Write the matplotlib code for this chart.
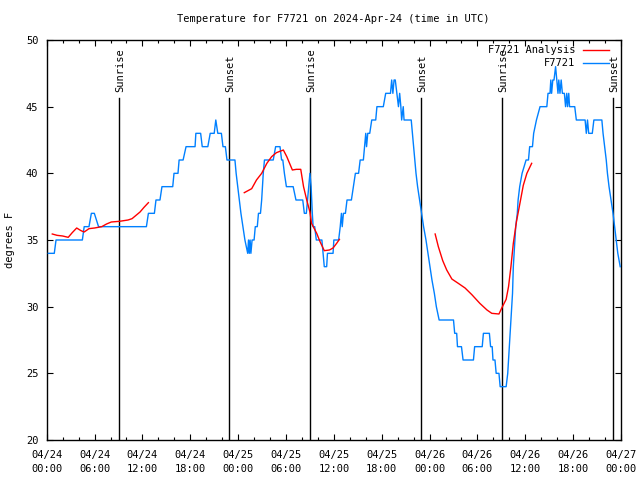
import matplotlib
matplotlib.use("Agg")
import matplotlib.pyplot as plt
from matplotlib.ticker import MultipleLocator
import matplotlib.transforms as mtransforms

plt.rcParams['font.family'] = ['DejaVu Sans Mono']

title = "Temperature for F7721 on 2024-Apr-24 (time in UTC)"
ylabel = "degrees F"

# x in hours since 04/24 00:00 UTC
xtick_hours = [0, 6, 12, 18, 24, 30, 36, 42, 48, 54, 60, 66, 72]
xtick_labels = ["04/24\n00:00", "04/24\n06:00", "04/24\n12:00", "04/24\n18:00",
                "04/25\n00:00", "04/25\n06:00", "04/25\n12:00", "04/25\n18:00",
                "04/26\n00:00", "04/26\n06:00", "04/26\n12:00", "04/26\n18:00",
                "04/27\n00:00"]

sun_hours = [9.08, 22.9, 33.05, 46.97, 57.1, 71.05]
sun_labels = ["Sunrise", "Sunset", "Sunrise", "Sunset", "Sunrise", "Sunset"]

obs_hours = [0.2, 0.95, 1.17, 4.47, 4.7, 5.3, 5.6, 5.97, 6.5, 12.5, 12.75, 13.5, 13.7, 14.2,
             14.45, 15.8, 15.96, 16.46, 16.6, 17.1, 17.47, 18.6, 18.7, 19.3, 19.5, 20.2,
             20.5, 21.0, 21.2, 21.45, 21.9, 22.1, 22.4, 22.6, 23.6,
             23.75, 23.95, 24.15, 24.35, 24.6, 24.85, 25.2, 25.3, 25.4, 25.5, 25.6, 25.75,
             26.0, 26.15, 26.4, 26.55, 26.8, 26.95, 27.05, 27.15, 27.3, 28.4, 28.7, 29.25,
             29.45, 29.6, 29.8, 30.05, 30.9, 31.25, 32.1, 32.3, 32.55, 32.7, 32.85, 33.0,
             33.15, 33.3, 33.4, 33.6, 33.8, 34.5, 34.65, 34.8, 35.1, 35.2, 35.9, 36.0,
             36.6, 36.8, 36.95, 37.05, 37.2, 37.45, 37.65, 38.2, 38.45, 38.7, 39.1, 39.3,
             39.7, 39.85, 40.0, 40.1, 40.25, 40.5, 40.75, 41.25, 41.4, 42.2, 42.5, 43.1,
             43.25, 43.4, 43.55, 43.7, 43.9, 44.1, 44.25, 44.4, 44.5, 44.7, 44.8, 45.7,
             45.85, 46.0, 46.15, 46.3, 46.5, 46.75, 47.0, 47.25, 47.55, 47.8, 48.05, 48.3,
             48.6, 48.85, 49.2, 51.0, 51.15, 51.4, 51.5, 52.0, 52.2, 53.5, 53.65, 54.6,
             54.75, 55.5, 55.65, 55.85, 55.95, 56.2, 56.35, 56.7, 56.85, 57.6, 57.8, 57.9,
             58.0, 58.1, 58.2, 58.3, 58.4, 58.5, 58.6, 58.7, 58.8, 59.0, 59.1, 59.3, 59.6,
             60.1, 60.4, 60.55, 60.9, 61.05, 61.4, 61.85, 62.7, 62.85, 63.1, 63.2, 63.3,
             63.45, 63.6, 63.8, 63.95, 64.1, 64.2, 64.35, 64.5, 64.65, 64.9, 65.05, 65.2,
             65.3, 65.45, 65.55, 66.2, 66.4, 67.5, 67.65, 67.8, 67.95, 68.4, 68.6, 69.6,
             69.75, 69.95, 70.15, 70.3, 70.5, 70.75, 71.0, 71.2, 71.4, 71.6, 71.9]
obs_temps = [34, 34, 35, 35, 36, 36, 37, 37, 36, 36, 37, 37, 38, 38,
             39, 39, 40, 40, 41, 41, 42, 42, 43, 43, 42, 42,
             43, 43, 44, 43, 43, 42, 42, 41, 41,
             40, 39, 38, 37, 36, 35, 34, 35, 34, 35, 34, 35,
             35, 36, 36, 37, 37, 38, 39, 40, 41, 41, 42, 42,
             41, 41, 40, 39, 39, 38, 38, 37, 37, 38, 39, 40,
             39, 37, 36, 36, 35, 35, 34, 33, 33, 34, 34, 35,
             35, 36, 37, 36, 37, 37, 38, 38, 39, 40, 40, 41,
             41, 42, 43, 42, 43, 43, 44, 44, 45, 45, 46, 46,
             47, 46, 47, 47, 46, 45, 46, 45, 44, 45, 44, 44,
             43, 42, 41, 40, 39, 38, 37, 36, 35, 34, 33, 32,
             31, 30, 29, 29, 28, 28, 27, 27, 26, 26, 27, 27,
             28, 28, 27, 27, 26, 26, 25, 25, 24, 24, 25, 26,
             27, 28, 29, 30, 31, 33, 34, 35, 36, 37, 38, 39, 40,
             41, 41, 42, 42, 43, 44, 45, 45, 46, 46, 47, 46,
             47, 47, 48, 47, 46, 47, 46, 47, 46, 46, 45, 46,
             45, 46, 45, 45, 44, 44, 43, 44, 43, 43, 44, 44,
             43, 42, 41, 40, 39, 38, 37, 36, 35, 34, 33]

ana1_hours = [0.7, 1.3, 2.0, 2.7, 3.2, 3.76, 4.3, 4.7, 5.3, 6.0, 6.9, 7.5, 8.1, 9.1, 10.2, 10.7, 11.2, 11.7, 12.2, 12.75]
ana1_temps = [35.45, 35.35, 35.3, 35.2, 35.55, 35.9, 35.7, 35.6, 35.85, 35.9, 36.0, 36.2, 36.35, 36.4, 36.5, 36.6, 36.85, 37.1, 37.45, 37.8]

ana2_hours = [24.77, 25.7, 26.3, 26.95, 27.6, 28.2, 28.8, 29.67, 30.1, 30.8, 31.3, 31.85, 32.2, 32.6, 33.0, 33.2, 33.85, 34.25, 34.8, 35.45, 35.9, 36.35, 36.7]
ana2_temps = [38.55, 38.85, 39.5, 40.0, 40.75, 41.25, 41.55, 41.75, 41.25, 40.25, 40.3, 40.3, 39.0, 38.0, 37.1, 36.25, 35.5, 34.9, 34.2, 34.25, 34.4, 34.75, 35.05]

ana3_hours = [48.7, 49.1, 49.65, 50.15, 50.8, 51.6, 52.45, 53.3, 54.3, 55.2, 55.8, 56.7, 57.05, 57.6, 57.9, 58.2, 58.5, 58.9, 59.25, 59.75, 60.2, 60.8]
ana3_temps = [35.45, 34.5, 33.45, 32.75, 32.07, 31.75, 31.4, 30.9, 30.25, 29.75, 29.5, 29.45, 29.9, 30.55, 31.5, 33.0, 34.75, 36.4, 37.5, 39.1, 40.0, 40.75]

series_names = ["F7721 Analysis", "F7721"]
red = "#ff0000"
blue = "#0080ff"

fig = plt.figure(figsize=(6.4, 4.8), dpi=100)
ax = fig.add_axes([46.7 / 640, 40 / 480, (621 - 46.7) / 640, 400 / 480])

ax.set_xlim(0, 72)
ax.set_ylim(20, 50)

for h, lab in zip(sun_hours, sun_labels):
    ax.plot([h, h], [20, 45.65], color="black", lw=1.0, zorder=1)
    off = mtransforms.offset_copy(ax.transData, fig=fig, x=1, y=0, units='dots')
    ax.text(h, 46.1, lab, rotation=90, ha="center", va="bottom", fontsize=7.5, transform=off)

ax.plot(obs_hours, obs_temps, color=blue, lw=1.0, zorder=3)
for hh, tt in [(ana1_hours, ana1_temps), (ana2_hours, ana2_temps), (ana3_hours, ana3_temps)]:
    ax.plot(hh, tt, color=red, lw=1.0, zorder=4)

# legend (gnuplot style: text then line sample)
for i, (name, col) in enumerate(zip(series_names, [red, blue])):
    yy = 0.975 - i * 0.0325
    ax.text(0.920, yy, name, transform=ax.transAxes, ha="right", va="center", fontsize=7.5)
    ax.plot([0.934, 0.979], [yy, yy], transform=ax.transAxes, color=col, lw=1.0)

ax.set_xticks(xtick_hours)
ax.set_xticklabels(xtick_labels, fontsize=7, linespacing=1.5)
ax.xaxis.set_minor_locator(MultipleLocator(2))
ax.set_yticks([20, 25, 30, 35, 40, 45, 50])
ax.tick_params(axis="both", which="major", direction="in", length=4.5, width=0.8,
               top=True, right=True, labelsize=7.5, pad=6)
ax.tick_params(axis="both", which="minor", direction="in", length=2.5, width=0.8,
               top=True, right=True)
ax.tick_params(axis="x", which="major", pad=7)
for s in ax.spines.values():
    s.set_linewidth(1.0)

fig.text(333 / 640, 1 - 19 / 480, title, ha="center", va="center", fontsize=7.5)
fig.text(10 / 640, 0.5, ylabel, rotation=90, ha="center", va="center", fontsize=7.5)

fig.savefig("out.png", dpi=100)
